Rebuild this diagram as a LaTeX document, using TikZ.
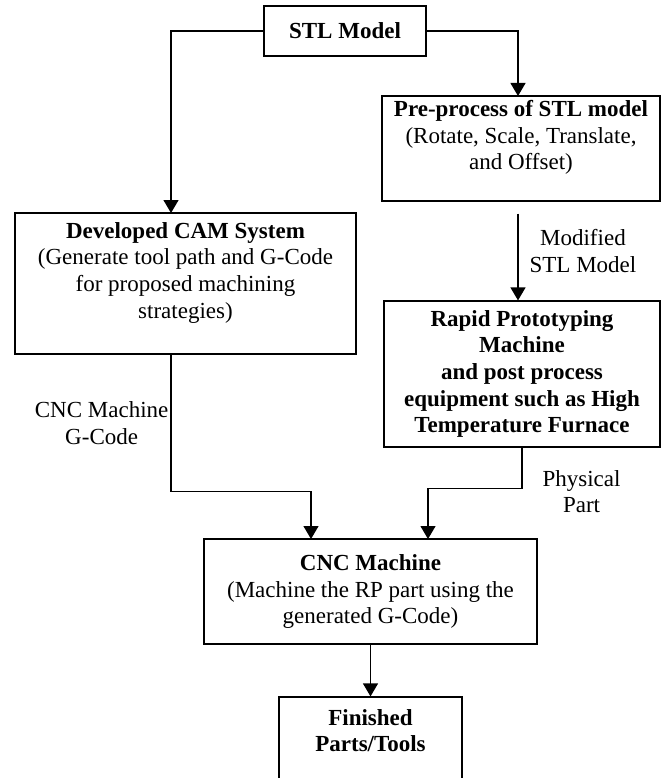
\documentclass[tikz,border=0pt]{standalone}
\usepackage{fontspec}
\setmainfont{Liberation Serif}
\usetikzlibrary{arrows.meta}

\begin{document}
\begin{tikzpicture}[x=1pt, y=-1pt, line width=1.2pt, >={Triangle[length=13pt, width=15pt]},
    box/.style={draw, align=center, inner sep=2pt, font=\fontsize{23}{26.6}\selectfont},
    lbl/.style={align=center, inner sep=2pt, font=\fontsize{23}{26.6}\selectfont}]
    \useasboundingbox (0,0) rectangle (662,778);
    \node [box, minimum width=162, minimum height=50] (stl) at (345,31) {\textbf{STL Model}};
    \node [box, minimum width=278, minimum height=105] (pre) at (521,148.5) {\textbf{Pre-process of STL model}\\(Rotate, Scale, Translate,\\and Offset)\\\mbox{}};
    \node [box, minimum width=341, minimum height=141] (cam) at (185.5,283.5) {\textbf{Developed CAM System}\\(Generate tool path and G-Code\\for proposed machining\\strategies)\\\mbox{}};
    \node [box, minimum width=276, minimum height=146, font=\fontsize{23}{26.6}\selectfont\bfseries] (rp) at (522,374) {Rapid Prototyping\\Machine\\and post process\\equipment such as High\\Temperature Furnace};
    \node [box, minimum width=333, minimum height=105] (cnc) at (370.5,591.5) {\textbf{CNC Machine}\\(Machine the RP part using the\\generated G-Code)};
    \node [box, minimum width=183, minimum height=120, font=\fontsize{23}{26.6}\selectfont\bfseries] (fin) at (370.5,757) {Finished\\Parts/Tools\\\mbox{}\\\mbox{}};
    \coordinate (camin) at (171,213);
    \coordinate (prein) at (518,96);
    \coordinate (cncl) at (311,539);
    \coordinate (cncr) at (428,539);
    \draw [->] (stl.west) -| (camin);
    \draw [->] (stl.east) -| (prein);
    \draw [->, shorten <=12] (pre.south -| prein) -- node [lbl, right, xshift=9] {Modified\\STL Model} (rp.north -| prein);
    \draw [->] (cam.south -| camin) -- node [lbl, left] {CNC Machine\\G-Code} ++(0,137) -| (cncl);
    \draw [->] (rp.south) -- ++(0,41) node [lbl, right, xshift=18, yshift=-3] {Physical\\Part} -| (cncr);
    \draw [->] (cnc.south) -- (fin.north);
\end{tikzpicture}
\end{document}
